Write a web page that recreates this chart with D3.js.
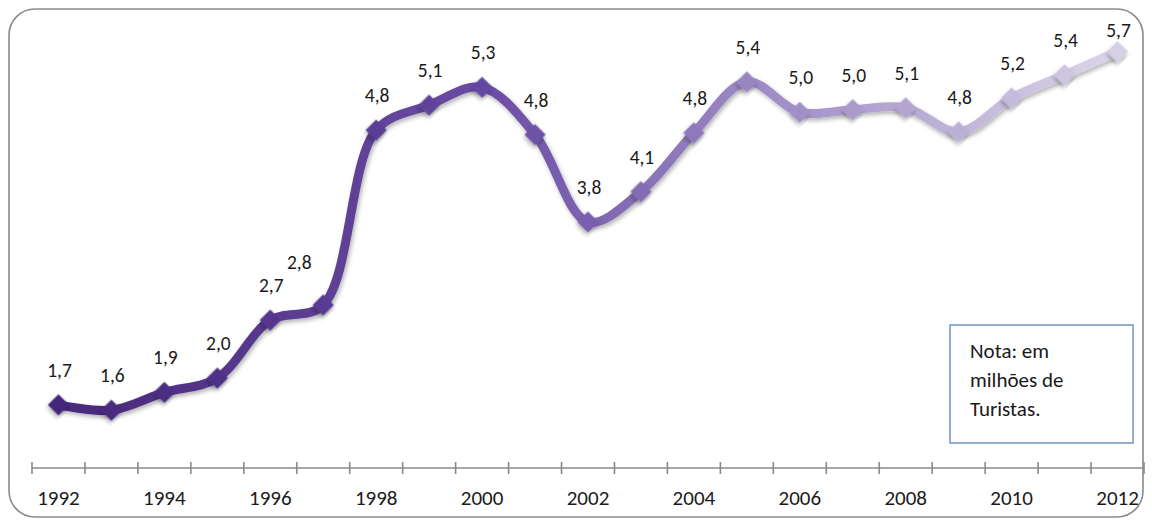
<!DOCTYPE html>
<html><head><meta charset="utf-8">
<script src="https://cdn.jsdelivr.net/npm/d3@7"></script>
<style>
html,body{margin:0;padding:0;background:#fff;}
svg{display:block;}
text{font-family:Carlito,Lato,"Open Sans",sans-serif;fill:#1a1a1a;}
</style></head>
<body><svg id="c" width="1152" height="526"></svg>
<script>
const years = [1992,1993,1994,1995,1996,1997,1998,1999,2000,2001,2002,2003,2004,2005,2006,2007,2008,2009,2010,2011,2012];
const values = [1.73,1.67,1.87,2.03,2.68,2.85,4.81,5.09,5.29,4.76,3.78,4.12,4.78,5.35,5.01,5.04,5.06,4.79,5.17,5.43,5.69];
const valueLabels = ["1,7","1,6","1,9","2,0","2,7","2,8","4,8","5,1","5,3","4,8","3,8","4,1","4,8","5,4","5,0","5,0","5,1","4,8","5,2","5,4","5,7"];
const tickYears = [1992,1994,1996,1998,2000,2002,2004,2006,2008,2010,2012];
const noteLines = ["Nota: em","milhões de","Turistas."];

const svg = d3.select("#c");

// frame
svg.append("rect").attr("x",9).attr("y",9).attr("width",1134).attr("height",508)
  .attr("rx",26).attr("ry",26).attr("fill","#fff").attr("stroke","#8a8a8a").attr("stroke-width",1.6);

const x = d3.scaleBand().domain(years).range([32,1144]).padding(0);
const y = d3.scaleLinear().domain([1,6]).range([470,24]);
const axisY = 468;

const defs = svg.append("defs");
const grad = defs.append("linearGradient").attr("id","lg")
  .attr("gradientUnits","userSpaceOnUse").attr("x1",58).attr("x2",1119).attr("y1",0).attr("y2",0);
[[0,"#48287a"],[0.4,"#6a4ca3"],[0.65,"#9b89c4"],[1,"#dcd6e9"]].forEach(s=>
  grad.append("stop").attr("offset",s[0]).attr("stop-color",s[1]));
const f = defs.append("filter").attr("id","sh").attr("x","-20%").attr("y","-20%").attr("width","140%").attr("height","160%");
f.append("feDropShadow").attr("dx",1.5).attr("dy",2.5).attr("stdDeviation",2).attr("flood-color","#000").attr("flood-opacity",0.3);

// axis
const axisG = svg.append("g").attr("transform",`translate(0,${axisY})`);
axisG.append("line").attr("x1",x.range()[0]).attr("x2",x.range()[1]).attr("stroke","#8a8a8a").attr("stroke-width",1.6);
const edges = years.map(d=>x(d)).concat([x.range()[1]]);
axisG.selectAll("line.tk").data(edges).join("line").attr("class","tk")
  .attr("x1",d=>d).attr("x2",d=>d).attr("y1",-6).attr("y2",6)
  .attr("stroke","#8a8a8a").attr("stroke-width",1.6);
axisG.selectAll("text.tl").data(tickYears).join("text").attr("class","tl")
  .attr("x",d=>x(d)+x.bandwidth()/2).attr("y",37).attr("text-anchor","middle")
  .style("font-size","21px").text(d=>d);

const cx = (d,i)=>x(years[i])+x.bandwidth()/2;
const line = d3.line().x((d,i)=>cx(d,i)).y(d=>y(d)).curve(d3.curveCatmullRom.alpha(0.5));

svg.append("path").datum(values).attr("d",line).attr("fill","none")
  .attr("stroke","url(#lg)").attr("stroke-width",9).attr("stroke-linecap","round")
  .attr("filter","url(#sh)");

const sym = d3.symbol().type(d3.symbolSquare).size(225);
const cs = d3.scaleLinear().domain([0,0.4,0.65,1]).range(["#44257a","#6446a0","#9886c2","#d6d0e6"]);
svg.selectAll("path.mk").data(values).join("path").attr("class","mk")
  .attr("d",sym)
  .attr("fill",(d,i)=>cs((cx(d,i)-58)/(1119-58)))
  .attr("transform",(d,i)=>`translate(${cx(d,i)},${y(d)}) rotate(45)`)
  .attr("filter","url(#sh)");

// the label of the point sitting on the steep rise is nudged up-left, as in the original
const nudge = i => years[i] === 1997 ? [-25, -8] : [0, 0];
svg.selectAll("text.vl").data(values).join("text").attr("class","vl")
  .attr("x",(d,i)=>cx(d,i)+1+nudge(i)[0]).attr("y",(d,i)=>Math.max(y(d)-28+nudge(i)[1],37))
  .attr("text-anchor","middle").style("font-size","19.5px")
  .text((d,i)=>valueLabels[i]);

// note box
svg.append("rect").attr("x",950).attr("y",325).attr("width",183).attr("height",118)
  .attr("fill","#fff").attr("stroke","#6f93c4").attr("stroke-width",1.5);
svg.selectAll("text.nt").data(noteLines).join("text").attr("class","nt")
  .attr("x",970).attr("y",(d,i)=>358+i*29).style("font-size","21px").text(d=>d);
</script></body></html>
